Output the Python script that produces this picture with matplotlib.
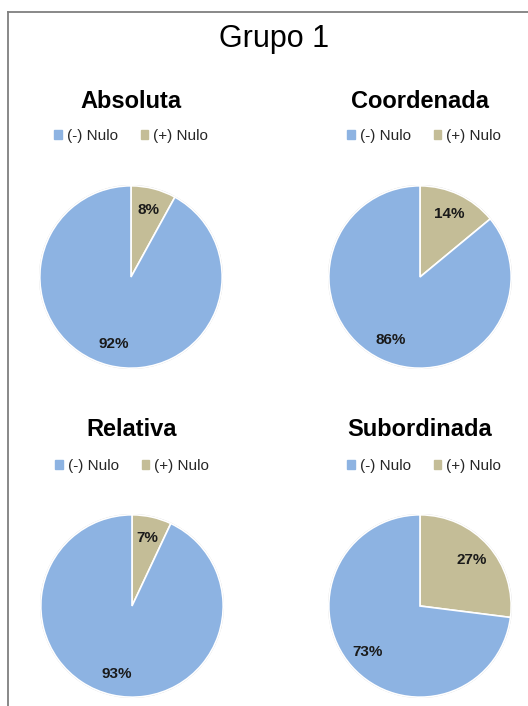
import matplotlib
matplotlib.use("Agg")
import matplotlib.pyplot as plt
from matplotlib.patches import Patch, Circle
from matplotlib.lines import Line2D

plt.rcParams['font.family'] = ['Liberation Sans', 'DejaVu Sans']

# dados
titulos = ['Absoluta', 'Coordenada', 'Relativa', 'Subordinada']
nulo_neg = [92, 86, 93, 73]   # (-) Nulo
nulo_pos = [8, 14, 7, 27]     # (+) Nulo
legenda = ['(-) Nulo', '(+) Nulo']

azul = '#8DB3E2'
bege = '#C4BD97'

W, H = 528, 706
fig = plt.figure(figsize=(W / 100, H / 100), dpi=100)

# moldura (so esquerda e topo aparecem no recorte)
fig.add_artist(Line2D([8 / W, 8 / W], [0, 1 - 12 / H], transform=fig.transFigure, color='#7f7f7f', lw=1.3))
fig.add_artist(Line2D([8 / W, 1], [1 - 12 / H, 1 - 12 / H], transform=fig.transFigure, color='#7f7f7f', lw=1.3))

fig.text(274 / W, 1 - 47 / H, 'Grupo 1', ha='center', va='baseline', fontsize=22)

# centros das pizzas em px
centros = [(131, 277), (420, 277), (132, 606), (420, 606)]
r = 93

for i in range(4):
    cx, cy = centros[i]
    ax = fig.add_axes([(cx - r) / W, (H - cy - r) / H, 2 * r / W, 2 * r / H])
    vals = [nulo_pos[i], nulo_neg[i]]
    wedges, textos, pcts = ax.pie(vals, colors=[bege, azul], startangle=90, counterclock=False,
                                  autopct='%1.0f%%', pctdistance=0.76, radius=1,
                                  wedgeprops=dict(edgecolor='white', linewidth=1.2),
                                  textprops=dict(fontsize=11, fontweight='bold', color='#1a1a1a'))
    ax.add_patch(Circle((0, 0), 1.0, fill=False, edgecolor='#d0d0d0', lw=1.2, zorder=0))
    ax.set_xlim(-1.02, 1.02)
    ax.set_ylim(-1.02, 1.02)
    ax.set_aspect('equal')
    ax.axis('off')

    ty = 101 if i < 2 else 430
    ly = 136 if i < 2 else 466
    lx = cx if i % 2 == 0 else cx + 4
    fig.text(cx / W, 1 - ty / H, titulos[i], ha='center', va='center', fontsize=17, fontweight='bold')
    handles = [Patch(color=azul), Patch(color=bege)]
    fig.legend(handles, legenda, loc='center', bbox_to_anchor=(lx / W, 1 - ly / H), ncol=2,
               frameon=False, fontsize=11, handlelength=0.5, handleheight=0.5,
               handletextpad=0.3, columnspacing=1.5, labelcolor='#262626')

fig.savefig('out.png', dpi=100)
